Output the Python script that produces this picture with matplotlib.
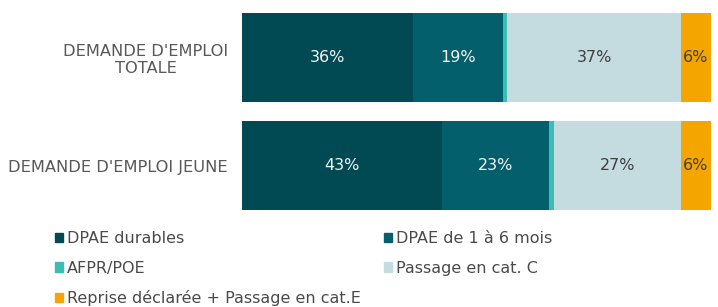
import numpy as np
import matplotlib.pyplot as plt
from matplotlib.patches import Patch

categories = ["DEMANDE D'EMPLOI\nTOTALE", "DEMANDE D'EMPLOI JEUNE"]
series = ["DPAE durables", "DPAE de 1 à 6 mois", "AFPR/POE",
          "Passage en cat. C", "Reprise déclarée + Passage en cat.E"]
values = {
    "DPAE durables": [36.4, 42.6],
    "DPAE de 1 à 6 mois": [19.2, 22.8],
    "AFPR/POE": [1.0, 1.2],
    "Passage en cat. C": [37.0, 27.0],
    "Reprise déclarée + Passage en cat.E": [6.4, 6.4],
}
colors = ["#024a53", "#035f6b", "#3bbcb5", "#c4dbe0", "#f5a500"]
text_colors = ["#f2f2f2", "#f2f2f2", None, "#404040", "#404040"]

fig = plt.figure(figsize=(7.18, 3.07), dpi=100)
ax = fig.add_axes([242 / 718, 1 - 220 / 307, 469 / 718, 217 / 307])

y = np.arange(len(categories))
left = np.zeros(len(categories))
for name, c, tc in zip(series, colors, text_colors):
    v = np.array(values[name])
    ax.barh(y, v, left=left, height=0.82, color=c, edgecolor="none")
    if tc is not None:
        for yi, (l, w) in enumerate(zip(left, v)):
            ax.text(l + w / 2, yi, f"{w:.0f}%", ha="center", va="center",
                    color=tc, fontsize=11.5)
    left += v

ax.set_xlim(0, 100)
ax.set_ylim(1.5, -0.5)
ax.set_yticks(y)
ax.set_yticklabels(categories, fontsize=11.7, color="#595959",
                   multialignment="center")
ax.tick_params(axis="y", length=0, pad=10)
ax.set_xticks([])
for s in ax.spines.values():
    s.set_visible(False)

handles = [Patch(color=c) for c in colors]
order = [0, 2, 4, 1, 3]
fig.legend([handles[i] for i in order], [series[i] for i in order],
           loc="upper left", bbox_to_anchor=(55 / 718, 1 - 231 / 307),
           ncol=2, frameon=False, fontsize=11.5, labelcolor="#4a4a4a",
           handlelength=0.5, handleheight=0.5, handletextpad=0.25,
           columnspacing=1.45, labelspacing=0.92, borderaxespad=0,
           borderpad=0)

fig.savefig("out.png", dpi=100)
